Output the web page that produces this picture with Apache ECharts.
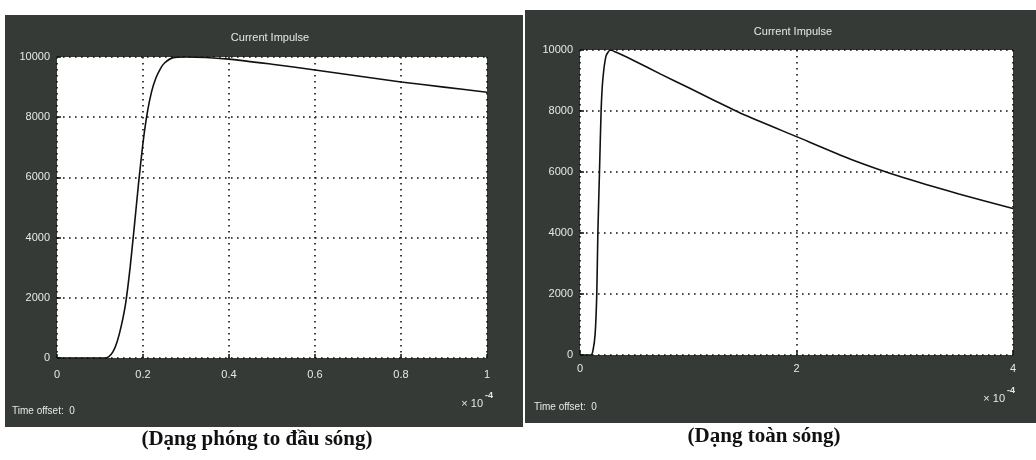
<!DOCTYPE html>
<html>
<head>
<meta charset="utf-8">
<script src="https://cdn.jsdelivr.net/npm/echarts@6/dist/echarts.min.js"></script>
<style>
html,body{margin:0;padding:0;background:#fff;}
#c{width:1036px;height:460px;}
</style>
</head>
<body>
<div id="c"></div>
<script>
// ---- data (time in units of 1e-4 s, current in A) ----
const leftTime    = [0, 0.1, 0.11, 0.12, 0.13, 0.14, 0.15, 0.16, 0.17, 0.18, 0.19, 0.2, 0.21, 0.22, 0.23, 0.24, 0.25, 0.27, 0.3, 0.4, 0.5, 0.6, 0.7, 0.8, 0.9, 1.0];
const leftCurrent = [0, 0, 0, 40, 200, 550, 1100, 1850, 3000, 4400, 5850, 7150, 8150, 8850, 9300, 9600, 9800, 9980, 10000, 9930, 9760, 9570, 9370, 9170, 9000, 8830];

const rightTime    = [0, 0.1, 0.12, 0.14, 0.155, 0.165, 0.18, 0.195, 0.21, 0.24, 0.28, 0.35, 0.5, 0.75, 1.0, 1.25, 1.5, 2.0, 2.5, 3.0, 3.5, 4.0];
const rightCurrent = [0, 0, 150, 700, 2000, 4000, 6000, 8000, 9000, 9800, 10000, 9900, 9650, 9200, 8770, 8330, 7900, 7160, 6420, 5800, 5280, 4800];

const panelTitles = ['Current Impulse', 'Current Impulse'];
const captions    = ['(Dạng phóng to đầu sóng)', '(Dạng toàn sóng)'];
const offsetText  = 'Time offset:  0';
const yTicks      = {min: 0, max: 10000, interval: 2000};
const leftXTicks  = {min: 0, max: 1, interval: 0.2};
const rightXTicks = {min: 0, max: 4, interval: 2};

const dark = '#363a36';
const light = '#e6e8e4';
const sans = 'Liberation Sans';

const chart = echarts.init(document.getElementById('c'), null, {renderer: 'canvas'});

const gridLine = {show: true, lineStyle: {color: '#111', width: 1.6, type: [1.6, 4.4]}};
function xAxis(idx, t, margin) {
  return {
    type: 'value', gridIndex: idx, min: t.min, max: t.max, interval: t.interval,
    axisLine: {show: false},
    axisTick: {show: true, inside: true, length: 4, lineStyle: {color: '#111', width: 1.5}},
    axisLabel: {color: light, fontFamily: sans, fontSize: 11, margin: margin,
      formatter: v => String(+v.toFixed(2))},
    splitLine: gridLine
  };
}
function yAxis(idx) {
  return {
    type: 'value', gridIndex: idx, min: yTicks.min, max: yTicks.max, interval: yTicks.interval,
    axisLine: {show: false},
    axisTick: {show: true, inside: true, length: 4, lineStyle: {color: '#111', width: 1.5}},
    axisLabel: {color: light, fontFamily: sans, fontSize: 11, margin: 7, formatter: v => String(v)},
    splitLine: gridLine
  };
}
function txt(x, y, s, opt) {
  return Object.assign({type: 'text', x: x, y: y, z: 100,
    style: Object.assign({text: s, fill: light, font: '11px "' + sans + '"', textVerticalAlign: 'middle'}, opt || {})});
}

chart.setOption({
  backgroundColor: '#ffffff',
  animation: false,
  graphic: [
    {type: 'rect', z: -10, shape: {x: 5, y: 15, width: 518, height: 412}, style: {fill: dark}},
    {type: 'rect', z: -10, shape: {x: 525, y: 10, width: 511, height: 413}, style: {fill: dark}},
    txt(270, 38, panelTitles[0], {textAlign: 'center', font: '11px "' + sans + '"'}),
    txt(793, 32, panelTitles[1], {textAlign: 'center', font: '11px "' + sans + '"'}),
    txt(12, 411, offsetText, {font: '10px "' + sans + '"'}),
    txt(534, 407, offsetText, {font: '10px "' + sans + '"'}),
    txt(483, 404, '× 10', {textAlign: 'right'}),
    txt(485, 396, '-4', {font: 'bold 9px "' + sans + '"'}),
    txt(1005, 399, '× 10', {textAlign: 'right'}),
    txt(1007, 391, '-4', {font: 'bold 9px "' + sans + '"'}),
    {type: 'text', x: 257, y: 440, z: 100, style: {text: captions[0], fill: '#111',
      font: 'bold 21px "Liberation Serif"', textAlign: 'center', textVerticalAlign: 'middle'}},
    {type: 'text', x: 764, y: 437, z: 100, style: {text: captions[1], fill: '#111',
      font: 'bold 21px "Liberation Serif"', textAlign: 'center', textVerticalAlign: 'middle'}}
  ],
  grid: [
    {left: 57, top: 57, width: 430, height: 301, show: true, backgroundColor: '#ffffff', borderWidth: 0},
    {left: 580, top: 50, width: 433, height: 305, show: true, backgroundColor: '#ffffff', borderWidth: 0}
  ],
  xAxis: [xAxis(0, leftXTicks, 11), xAxis(1, rightXTicks, 8)],
  yAxis: [yAxis(0), yAxis(1)],
  series: [
    {type: 'line', xAxisIndex: 0, yAxisIndex: 0, showSymbol: false, smooth: 0.2,
      data: leftTime.map((t, i) => [t, leftCurrent[i]]),
      lineStyle: {color: '#111', width: 1.6}},
    {type: 'line', xAxisIndex: 1, yAxisIndex: 1, showSymbol: false, smooth: 0.2,
      data: rightTime.map((t, i) => [t, rightCurrent[i]]),
      lineStyle: {color: '#111', width: 1.6}}
  ]
});
</script>
</body>
</html>
